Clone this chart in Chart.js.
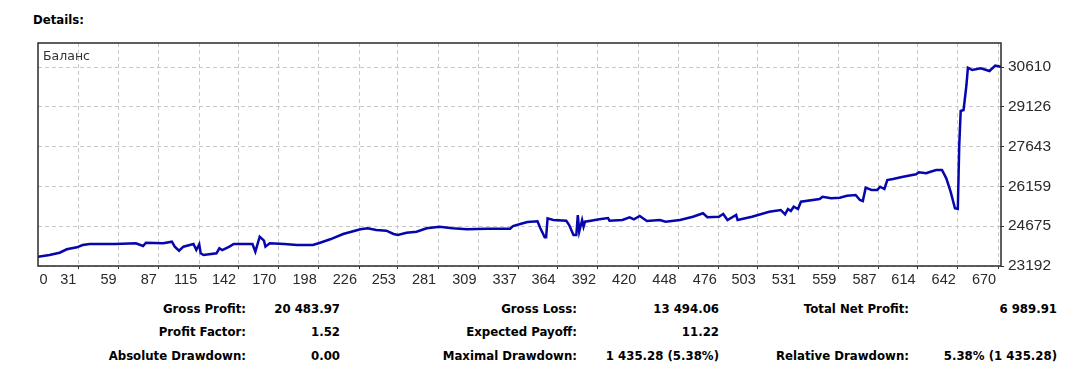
<!DOCTYPE html>
<html>
<head>
<meta charset="utf-8">
<script src="https://cdn.jsdelivr.net/npm/chart.js@4/dist/chart.umd.min.js"></script>
<style>
  body { margin: 0; background: #fff; width: 1075px; height: 374px; position: relative; overflow: hidden; }
  #wrap { position: absolute; left: 0; top: 0; width: 1075px; height: 290px; }
  .t { position: absolute; font-family: "DejaVu Sans", Verdana, sans-serif; font-weight: bold; font-size: 11.75px; line-height: 14px; color: #000; white-space: nowrap; }
</style>
</head>
<body>
<div class="t" style="left:33px; top:13px;">Details:</div>
<div id="wrap"><canvas id="mycanvas"></canvas></div>
<div id="stats"></div>
<script>
// trade number / balance
var tradeNo = [3,11,18,23,30,34,39,57,71,76,
    78,90,96,98,101,104,111,113,115,116,
    118,127,129,131,136,139,152,154,157,160,
    161,164,174,183,194,199,206,215,227,232,
    238,245,250,253,259,266,273,282,291,301,
    315,331,333,338,343,350,352,355,356,357,
    361,370,372,375,377,378,379,381,382,383,
    387,393,399,400,409,414,417,421,426,435,
    439,449,458,465,468,476,479,482,488,489,
    499,511,519,522,524,526,528,531,533,546,
    548,554,560,565,571,574,576,578,582,586,
    588,591,593,597,604,613,615,620,623,627,
    631,634,637,640,642,643,644,646,648,649,
    652,658,664,668,672];
var balance = [23539,23602,23688,23815,23889,23975,24012,24012,24038,23938,
    24061,24038,24098,23912,23762,23912,24012,23788,24001,23665,
    23602,23665,23852,23788,23912,24012,24012,23725,24284,24135,
    23912,24038,24012,23975,23975,24061,24187,24385,24560,24597,
    24534,24508,24385,24348,24433,24471,24597,24657,24597,24560,
    24583,24583,24683,24758,24832,24858,24597,24262,24262,24970,
    24907,24881,24720,24348,24348,25093,24471,24907,24657,24843,
    24881,24933,24981,24881,24907,25008,24933,25056,24870,24907,
    24843,24907,25030,25157,25008,25030,25131,24907,25093,24907,
    25030,25216,25280,25119,25317,25242,25403,25317,25589,25690,
    25775,25716,25738,25813,25839,25652,25615,26111,26025,26025,
    26148,26063,26398,26435,26521,26611,26685,26648,26707,26771,
    26771,26461,25962,25343,25317,27703,28970,29008,29940,30585,
    30499,30562,30462,30659,30622];

// axis ticks (first x label sits just inside the left edge, no grid line there)
var xTickPos = [11,31,59,87,115,142,170,198,226,253,281,309,337,364,392,420,448,476,503,531,559,587,614,642,670];
var xTickLabels = ['0','31','59','87','115','142','170','198','226','253','281','309','337','364','392','420','448','476','503','531','559','587','614','642','670'];
var yTicks = [23192,24675,26159,27643,29126,30610];

// summary rows
var statLabels1 = ['Gross Profit:', 'Profit Factor:', 'Absolute Drawdown:'];
var statValues1 = ['20 483.97', '1.52', '0.00'];
var statLabels2 = ['Gross Loss:', 'Expected Payoff:', 'Maximal Drawdown:'];
var statValues2 = ['13 494.06', '11.22', '1 435.28 (5.38%)'];
var statLabels3 = ['Total Net Profit:', '', 'Relative Drawdown:'];
var statValues3 = ['6 989.91', '', '5.38% (1 435.28)'];

var rowTops = [302, 325, 349];
var cols = [[statLabels1, 246], [statValues1, 340], [statLabels2, 577], [statValues2, 719], [statLabels3, 909], [statValues3, 1057]];
var html = '';
for (var c in cols) {
    for (var r in rowTops) {
        if (!cols[c][0][r]) continue;
        html += '<div class="t" style="right:' + (1075 - cols[c][1]) + 'px; top:' + rowTops[r] + 'px;">' + cols[c][0][r] + '</div>';
    }
}
document.getElementById('stats').innerHTML = html;

var points = [];
for (var i in tradeNo) {
    points.push({x: tradeNo[i], y: balance[i]});
}

var framePlugin = {
    id: 'frame',
    afterDraw: function(chart) {
        var a = chart.chartArea, ctx = chart.ctx;
        ctx.save();
        ctx.strokeStyle = '#2a2a2a';
        ctx.lineWidth = 1.5;
        ctx.strokeRect(a.left, a.top, a.right - a.left, a.bottom - a.top);
        ctx.fillStyle = '#333';
        ctx.font = '12.5px "DejaVu Sans", sans-serif';
        ctx.textBaseline = 'middle';
        ctx.fillText('Баланс', a.left + 5, a.top + 14);
        ctx.restore();
    }
};

var gridColor = function(c) { return c.index === 0 && c.scale.axis === 'x' ? 'rgba(0,0,0,0)' : '#c8c8c8'; };
var tickMarkColor = function(c) { return c.index === 0 && c.scale.axis === 'x' ? 'rgba(0,0,0,0)' : '#333'; };

var ctx = document.getElementById('mycanvas');
var balanceChart = new Chart(ctx, {
    type: 'line',
    data: {
        datasets: [{
            label: 'Баланс',
            data: points,
            borderColor: '#0606ac',
            borderWidth: 2.5,
            pointRadius: 0,
            tension: 0,
            fill: false
        }]
    },
    options: {
        responsive: true,
        maintainAspectRatio: false,
        animation: false,
        layout: { padding: { left: 38, top: 43, right: 0, bottom: 0 } },
        plugins: { legend: { display: false }, tooltip: { enabled: false } },
        scales: {
            x: {
                type: 'linear',
                min: 3,
                max: 672,
                afterBuildTicks: function(scale) {
                    scale.ticks = xTickPos.map(function(v) { return {value: v}; });
                },
                afterFit: function(scale) { scale.height = 24; },
                grid: { color: gridColor, tickColor: tickMarkColor, tickLength: 3, tickBorderDash: [] },
                border: { display: false, dash: [4, 3] },
                ticks: {
                    autoSkip: false,
                    maxRotation: 0,
                    align: 'end',
                    labelOffset: -2,
                    padding: 2,
                    color: '#2a2a2a',
                    font: { family: '"Liberation Sans", Arial, sans-serif', size: 14.5 },
                    callback: function(value, index) { return xTickLabels[index]; }
                }
            },
            y: {
                position: 'right',
                min: 23192,
                max: 31505,
                afterBuildTicks: function(scale) {
                    scale.ticks = yTicks.map(function(v) { return {value: v}; });
                },
                afterFit: function(scale) { scale.width = 74; },
                grid: { color: '#c8c8c8', tickColor: '#333', tickLength: 3, tickBorderDash: [] },
                border: { display: false, dash: [4, 3] },
                ticks: {
                    padding: 4,
                    color: '#2a2a2a',
                    font: { family: '"Liberation Sans", Arial, sans-serif', size: 15.5 },
                    callback: function(value) { return String(value); }
                }
            }
        }
    },
    plugins: [framePlugin]
});
</script>
</body>
</html>
